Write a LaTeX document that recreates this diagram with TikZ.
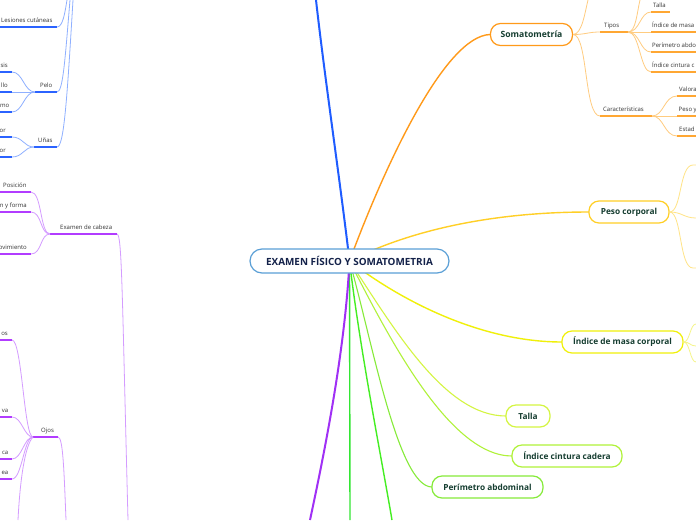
\documentclass[tikz,border=0pt]{standalone}
\usepackage{fontspec}
\setmainfont{Open Sans}
\definecolor{blueMain}{HTML}{1F5CFF}
\definecolor{blueLight}{HTML}{8FB0FF}
\definecolor{blueUnder}{HTML}{2B63FF}
\definecolor{purpleMain}{HTML}{A030F5}
\definecolor{purpleLight}{HTML}{D49CFF}
\definecolor{purpleUnder}{HTML}{B23CFF}
\definecolor{orangeMain}{HTML}{FF9A1A}
\definecolor{orangeLight}{HTML}{FFCC80}
\definecolor{orangeUnder}{HTML}{FFA733}
\definecolor{goldLine}{HTML}{FFCF26}
\definecolor{goldLight}{HTML}{FFE487}
\definecolor{yellowLine}{HTML}{F0F00A}
\definecolor{yellowLight}{HTML}{F5F58A}
\definecolor{tallaLine}{HTML}{D4F542}
\definecolor{iccLine}{HTML}{B0F23A}
\definecolor{perimLine}{HTML}{86EB3A}
\definecolor{greenA}{HTML}{33E633}
\definecolor{greenB}{HTML}{44EE22}
\definecolor{centerBorder}{HTML}{5A9FD6}
\definecolor{centerText}{HTML}{14224A}
\definecolor{nodeText}{HTML}{153D30}
\definecolor{lblText}{HTML}{333333}
\tikzset{
  topic/.style={draw, fill=white, rounded corners=10pt, line width=1.2pt,
    inner sep=0pt, minimum height=22pt, text=nodeText,
    font=\bfseries\fontsize{8.3}{9}\selectfont},
  lbl/.style={inner sep=0pt, anchor=base west, text=lblText,
    font=\fontsize{6}{7}\selectfont},
  lble/.style={lbl, anchor=base east},
  conn/.style={line width=0.8pt},
  under/.style={line width=1.6pt},
  leafunder/.style={line width=2pt}
}
\begin{document}
\begin{tikzpicture}[x=1pt,y=-1pt]
\useasboundingbox (0,0) rectangle (696,520);
\fill[white] (0,0) rectangle (696,520);

% ---------- coordinates ----------
\coordinate (c) at (349.5,261);
\coordinate (topBlue) at (316,0);
\coordinate (botPurple) at (310,520);
\coordinate (botGreenA) at (350,520);
\coordinate (botGreenB) at (392,520);

% ---------- main branches (behind central node) ----------
\draw[blueMain, line width=2pt] (c) .. controls (340,180) and (325,80) .. (topBlue);
\draw[orangeMain, line width=1.4pt] (c) .. controls (385,165) and (445,36) .. (490,34.5);
\draw[goldLine, line width=1.4pt] (c) .. controls (400,235) and (480,212) .. (589,212);
\draw[yellowLine, line width=1.4pt] (c) .. controls (400,300) and (480,342) .. (562,342);
\draw[tallaLine, line width=1.1pt] (c) .. controls (395,330) and (445,416) .. (506,416);
\draw[iccLine, line width=1.1pt] (c) .. controls (390,340) and (450,456) .. (512,456);
\draw[perimLine, line width=1.1pt] (c) .. controls (372,340) and (398,487) .. (432,487);
\draw[greenA, line width=1.4pt] (c) -- (botGreenA);
\draw[greenB, line width=1.4pt] (c) .. controls (360,350) and (380,450) .. (botGreenB);
\draw[purpleMain, line width=2pt] (c) .. controls (345,350) and (325,450) .. (botPurple);

% ---------- nodes ----------
\node[topic, draw=centerBorder, text=centerText, minimum width=199pt, minimum height=24pt,
  rounded corners=12pt, font=\bfseries\fontsize{9.9}{11}\selectfont] (central) at (c) {EXAMEN FÍSICO Y SOMATOMETRIA};
\node[topic, draw=orangeMain, minimum width=82pt, font=\bfseries\fontsize{8.6}{9}\selectfont] (som) at (531.5,34.5) {Somatometría};
\node[topic, draw=goldLine, minimum width=80pt] (peso) at (629,212) {Peso corporal};
\node[topic, draw=yellowLine, minimum width=121pt] (imc) at (622.5,342) {Índice de masa corporal};
\node[topic, draw=tallaLine, minimum width=44pt] (talla) at (528,416) {Talla};
\node[topic, draw=iccLine, minimum width=110pt] (icc) at (567,456) {Índice cintura cadera};
\node[topic, draw=perimLine, minimum width=111pt] (perim) at (487.5,487) {Perímetro abdominal};

% ---------- Somatometría subtree ----------
\coordinate (somUp) at (588,0);
\coordinate (tiposL) at (600,32);
\coordinate (tiposR) at (628,32);
\coordinate (carL) at (600,116);
\coordinate (carR) at (652,116);
\draw[orangeLight, conn] (som.east) .. controls (582,34.5) and (585,12) .. (somUp);
\draw[orangeLight, conn] (som.east) .. controls (586,34.5) and (588,32) .. (tiposL);
\draw[orangeLight, conn] (som.east) .. controls (588,34.5) and (584,116) .. (carL);
\draw[orangeUnder, under] (tiposL) -- (tiposR);
\draw[orangeUnder, under] (carL) -- (carR);
\node[lbl] (tipos) at (604,27) {Tipos};
\node[lbl] (car) at (603,111) {Características};

\coordinate (tUp) at (640,0);
\coordinate (t1) at (651,12); \coordinate (t1e) at (670,12);
\coordinate (t2) at (651,32); \coordinate (t2e) at (696,32);
\coordinate (t3) at (651,52); \coordinate (t3e) at (696,52);
\coordinate (t4) at (651,72); \coordinate (t4e) at (696,72);
\draw[orangeLight, conn] (tiposR) .. controls (636,32) and (637,12) .. (tUp);
\draw[orangeLight, conn] (tiposR) .. controls (640,32) and (640,12) .. (t1);
\draw[orangeLight, conn] (tiposR) -- (t2);
\draw[orangeLight, conn] (tiposR) .. controls (640,32) and (640,52) .. (t3);
\draw[orangeLight, conn] (tiposR) .. controls (640,32) and (640,72) .. (t4);
\draw[orangeUnder, leafunder] (t1) -- (t1e);
\draw[orangeUnder, leafunder] (t2) -- (t2e);
\draw[orangeUnder, leafunder] (t3) -- (t3e);
\draw[orangeUnder, leafunder] (t4) -- (t4e);
\node[lbl] (tl1) at (653,7.5) {Talla};
\node[lbl] (tl2) at (652,27.5) {Índice de masa};
\node[lbl] (tl3) at (652,47.5) {Perímetro abdo};
\node[lbl] (tl4) at (652,67.5) {Índice cintura c};

\coordinate (c1) at (677,96); \coordinate (c1e) at (696,96);
\coordinate (c2) at (677,116); \coordinate (c2e) at (696,116);
\coordinate (c3) at (677,136); \coordinate (c3e) at (696,136);
\draw[orangeLight, conn] (carR) .. controls (664,116) and (664,96) .. (c1);
\draw[orangeLight, conn] (carR) -- (c2);
\draw[orangeLight, conn] (carR) .. controls (664,116) and (664,136) .. (c3);
\draw[orangeUnder, leafunder] (c1) -- (c1e);
\draw[orangeUnder, leafunder] (c2) -- (c2e);
\draw[orangeUnder, leafunder] (c3) -- (c3e);
\node[lbl] (cl1) at (679,91.5) {Valora};
\node[lbl] (cl2) at (678.5,111.5) {Peso y};
\node[lbl] (cl3) at (679,131.5) {Estad};

% ---------- Peso corporal children ----------
\coordinate (p1) at (693,165); \coordinate (p2) at (696,218); \coordinate (p3) at (693,268);
\draw[goldLight, conn] (peso.east) .. controls (682,212) and (679,165) .. (p1) -- (696,165);
\draw[goldLight, conn] (peso.east) .. controls (682,212) and (684,218) .. (p2);
\draw[goldLight, conn] (peso.east) .. controls (682,212) and (679,268) .. (p3) -- (696,268);

% ---------- IMC children ----------
\coordinate (i1) at (696,324); \coordinate (i2) at (696,346); \coordinate (i3) at (696,362);
\draw[yellowLight, conn] (imc.east) .. controls (690,342) and (690,324) .. (i1);
\draw[yellowLight, conn] (imc.east) .. controls (690,342) and (690,346) .. (i2);
\draw[yellowLight, conn] (imc.east) .. controls (690,342) and (690,362) .. (i3);

% ---------- blue left subtree ----------
\coordinate (bTop1) at (67,0);
\coordinate (bTop2) at (70,0);
\coordinate (bTop3) at (73,0);
\coordinate (lesL) at (0,27); \coordinate (lesR) at (57,27);
\coordinate (peloL) at (35,92); \coordinate (peloR) at (57,92);
\coordinate (unasL) at (34,147); \coordinate (unasR) at (57,147);
\draw[blueLight, conn] (lesR) .. controls (63,27) and (65,12) .. (bTop1);
\draw[blueLight, conn] (peloR) .. controls (63,92) and (65,60) .. (bTop2);
\draw[blueLight, conn] (unasR) .. controls (64,147) and (67,100) .. (bTop3);
\draw[blueUnder, under] (lesL) -- (lesR);
\draw[blueUnder, under] (peloL) -- (peloR);
\draw[blueUnder, under] (unasL) -- (unasR);
\node[lbl] (les) at (1,22.5) {Lesiones cutáneas};
\node[lbl] (pelo) at (40,87.5) {Pelo};
\node[lbl] (unas) at (38,142.5) {Uñas};

\coordinate (pe1) at (12,72); \coordinate (pe1l) at (0,72);
\coordinate (pe2) at (12,92); \coordinate (pe2l) at (0,92);
\coordinate (pe3) at (12,112); \coordinate (pe3l) at (0,112);
\draw[blueLight, conn] (peloL) .. controls (24,92) and (23,72) .. (pe1);
\draw[blueLight, conn] (peloL) -- (pe2);
\draw[blueLight, conn] (peloL) .. controls (24,92) and (23,112) .. (pe3);
\draw[blueUnder, leafunder] (pe1l) -- (pe1);
\draw[blueUnder, leafunder] (pe2l) -- (pe2);
\draw[blueUnder, leafunder] (pe3l) -- (pe3);
\node[lble] (pel1) at (8,67.5) {sis};
\node[lble] (pel2) at (8,87.5) {llo};
\node[lble] (pel3) at (9.5,107.5) {mo};

\coordinate (u1) at (12,137); \coordinate (u1l) at (0,137);
\coordinate (u2) at (12,157); \coordinate (u2l) at (0,157);
\draw[blueLight, conn] (unasL) .. controls (24,147) and (23,137) .. (u1);
\draw[blueLight, conn] (unasL) .. controls (24,147) and (23,157) .. (u2);
\draw[blueUnder, leafunder] (u1l) -- (u1);
\draw[blueUnder, leafunder] (u2l) -- (u2);
\node[lble] (ul1) at (6,132.5) {or};
\node[lble] (ul2) at (6,152.5) {or};

% ---------- purple left subtree ----------
\coordinate (cabL) at (50,234); \coordinate (cabR) at (117,234);
\coordinate (cabDown) at (128,520);
\draw[purpleLight, conn] (cabR) .. controls (122,234) and (122,290) .. (cabDown);
\draw[purpleUnder, under] (cabL) -- (cabR);
\node[lbl] (cab) at (60,229.5) {Examen de cabeza};

\coordinate (k1) at (31,192); \coordinate (k1l) at (0,192);
\coordinate (k2) at (31,212); \coordinate (k2l) at (0,212);
\coordinate (k3) at (31,254); \coordinate (k3l) at (0,254);
\draw[purpleLight, conn] (cabL) .. controls (40,234) and (42,192) .. (k1);
\draw[purpleLight, conn] (cabL) .. controls (40,234) and (42,212) .. (k2);
\draw[purpleLight, conn] (cabL) .. controls (40,234) and (42,254) .. (k3);
\draw[purpleUnder, leafunder] (k1l) -- (k1);
\draw[purpleUnder, leafunder] (k2l) -- (k2);
\draw[purpleUnder, leafunder] (k3l) -- (k3);
\node[lbl] (kl1) at (3,187.5) {Posición};
\node[lble] (kl2) at (27,207.5) {n y forma};
\node[lble] (kl3) at (27,249.5) {ovimiento};

\coordinate (ojL) at (33,437); \coordinate (ojR) at (58,437);
\coordinate (ojDown) at (66,520);
\draw[purpleLight, conn] (ojR) .. controls (63,437) and (64,470) .. (ojDown);
\draw[purpleUnder, under] (ojL) -- (ojR);
\node[lbl] (ojos) at (41,432.5) {Ojos};

\coordinate (o1) at (12,340); \coordinate (o1l) at (0,340);
\coordinate (o2) at (12,417); \coordinate (o2l) at (0,417);
\coordinate (o3) at (12,459); \coordinate (o3l) at (0,459);
\coordinate (o4) at (12,479); \coordinate (o4l) at (0,479);
\coordinate (o5) at (18,520);
\draw[purpleLight, conn] (ojL) .. controls (24,437) and (22,340) .. (o1);
\draw[purpleLight, conn] (ojL) .. controls (24,437) and (22,417) .. (o2);
\draw[purpleLight, conn] (ojL) .. controls (24,437) and (22,459) .. (o3);
\draw[purpleLight, conn] (ojL) .. controls (24,437) and (22,479) .. (o4);
\draw[purpleLight, conn] (ojL) .. controls (25,445) and (20,480) .. (o5);
\draw[purpleUnder, leafunder] (o1l) -- (o1);
\draw[purpleUnder, leafunder] (o2l) -- (o2);
\draw[purpleUnder, leafunder] (o3l) -- (o3);
\draw[purpleUnder, leafunder] (o4l) -- (o4);
\node[lble] (ol1) at (8,335.5) {os};
\node[lble] (ol2) at (8.5,412.5) {va};
\node[lble] (ol3) at (8.5,454.5) {ca};
\node[lble] (ol4) at (8.5,474.5) {ea};
\end{tikzpicture}
\end{document}
